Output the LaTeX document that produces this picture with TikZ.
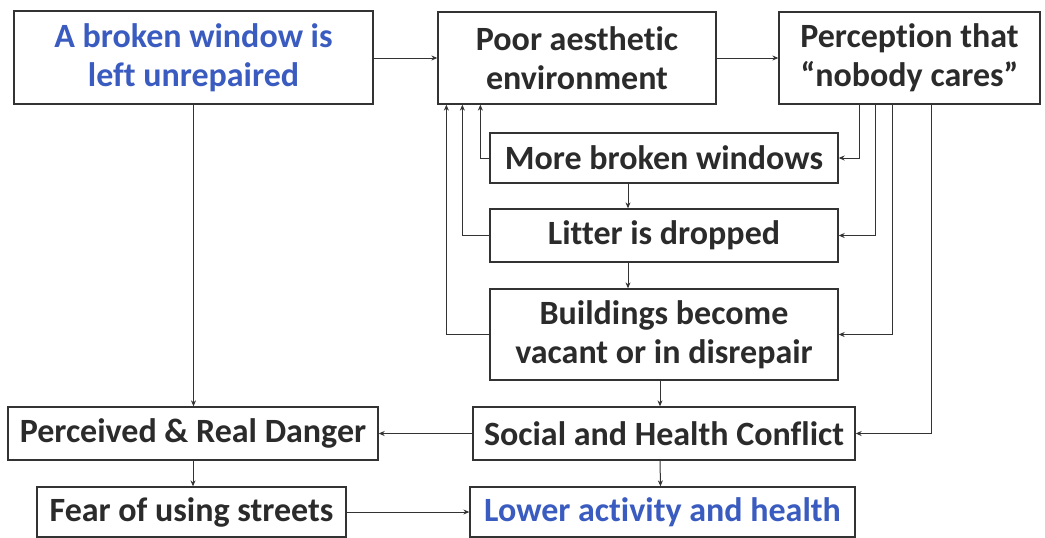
\documentclass[tikz,border=0pt]{standalone}
\usepackage{fontspec}
\setmainfont[Ligatures=NoCommon]{Carlito}
\usetikzlibrary{arrows.meta}
\definecolor{txt}{HTML}{2B2B2B}
\definecolor{bluetxt}{HTML}{3A5BBF}
\definecolor{edge}{HTML}{333333}
\tikzset{
  box/.style={draw=edge, line width=1.3pt, fill=white, text=txt, font=\fontsize{34}{39}\selectfont\bfseries, align=center, inner sep=0pt},
  arr/.style={draw=edge, line width=1pt, -{Stealth[length=6pt,width=5pt]}},
  ln/.style={draw=edge, line width=1pt}
}
\begin{document}
\begin{tikzpicture}[x=1pt,y=-1pt]
\useasboundingbox (0,0) rectangle (1045,538);
\node[box, text=bluetxt, minimum width=359pt, minimum height=93pt] (A) at (193.5,57.5) {A broken window is\\left unrepaired};
\node[box, minimum width=278pt, minimum height=92pt] (P) at (577,58) {Poor aesthetic\\environment};
\node[box, minimum width=261pt, minimum height=92pt] (N) at (909.5,58) {Perception that\\\textquotedblleft nobody cares\textquotedblright};
\node[box, minimum width=348pt, minimum height=50pt] (M) at (664,158) {More broken windows};
\node[box, minimum width=348pt, minimum height=53pt] (L) at (664,235.5) {Litter is dropped};
\node[box, minimum width=348pt, minimum height=91pt] (B) at (664,334.5) {Buildings become\\vacant or in disrepair};
\node[box, minimum width=370pt, minimum height=53pt] (D) at (193,433.5) {Perceived \& Real Danger};
\node[box, minimum width=382pt, minimum height=53pt] (S) at (664,433.5) {Social and Health Conflict};
\node[box, minimum width=309pt, minimum height=50pt] (F) at (191.5,512) {Fear of using streets};
\node[box, text=bluetxt, minimum width=385pt, minimum height=50pt] (W) at (662.5,512) {Lower activity and health};

\coordinate (a1) at ([xshift=43pt]P.south west);
\coordinate (a2) at ([xshift=25pt]P.south west);
\coordinate (a3) at ([xshift=9pt]P.south west);
\coordinate (n1) at ([xshift=81pt]N.south west);
\coordinate (n2) at ([xshift=97pt]N.south west);
\coordinate (n3) at ([xshift=114pt]N.south west);
\coordinate (n4) at ([xshift=153pt]N.south west);

\draw[arr] (A.east |- P.west) -- (P.west);
\draw[arr] (P.east) -- (N.west);
\draw[arr] (M.west) -| (a1);
\draw[arr] (L.west) -| (a2);
\draw[arr] (B.west) -| (a3);
\draw[arr] (n1) |- (M.east);
\draw[arr] (n2) |- (L.east);
\draw[arr] (n3) |- (B.east);
\draw[arr] (n4) |- (S.east);
\draw[arr] ([xshift=-36pt]M.south) -- ([xshift=-36pt]L.north);
\draw[arr] ([xshift=-36pt]L.south) -- ([xshift=-36pt]B.north);
\draw[arr] ([xshift=-4pt]B.south) -- ([xshift=-4pt]S.north);
\draw[arr] ([xshift=-4pt]S.south) -- ([xshift=-2pt]W.north);
\draw[arr] (A.south) -- (A.south |- D.north);
\draw[arr] (D.south) -- (D.south |- F.north);
\draw[arr] (S.west) -- (D.east);
\draw[arr] (F.east) -- (W.west);
\end{tikzpicture}
\end{document}
